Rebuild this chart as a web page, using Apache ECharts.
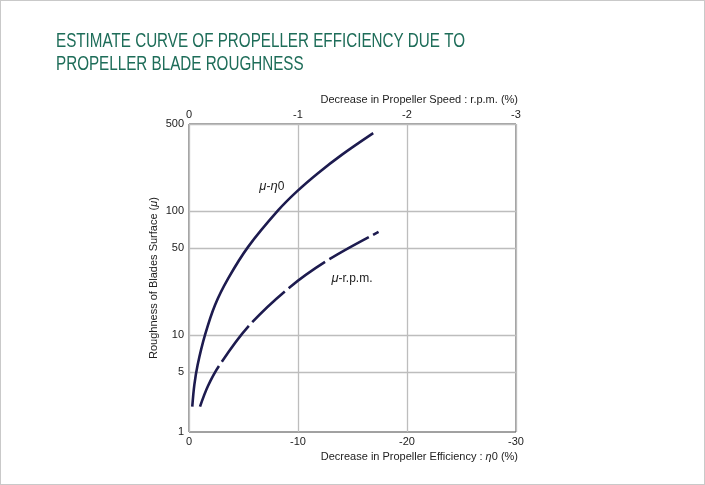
<!DOCTYPE html>
<html><head><meta charset="utf-8">
<script src="https://cdn.jsdelivr.net/npm/echarts@6/dist/echarts.min.js"></script>
<style>
html,body{margin:0;padding:0;background:#fff;}
#wrap{position:relative;width:705px;height:485px;}
#c{width:705px;height:485px;}
#frame{position:absolute;left:0;top:0;width:705px;height:485px;box-sizing:border-box;border:1px solid #c9c9c9;pointer-events:none;}
</style></head>
<body><div id="wrap"><div id="c"></div><div id="frame"></div></div>
<script>
// ---- data ----
const etaX = [-0.30, -0.49, -0.79, -1.47, -2.39, -3.61, -5.44, -8.19, -9.88, -11.86, -14.01, -16.9];
const etaY = [2.64, 3.95, 5.72, 9.98, 17.4, 28.6, 51.4, 101, 142.6, 201.6, 282, 422];
const rpmX = [-1.01, -1.74, -2.75, -5.41, -9.17, -12.84, -17.39];
const rpmY = [2.64, 3.87, 5.62, 11.6, 23.9, 40.5, 67.5];
const yTicks = [5, 10, 50, 100, 500];
const yBottomLabel = '1';
const xTicksBottom = [0, -10, -20, -30];
const xTicksTop = [0, -1, -2, -3];

const FONT = 'Liberation Sans, Arial, sans-serif';
const LINE = '#1d1b4f';
const chart = echarts.init(document.getElementById('c'), null, {renderer: 'canvas'});
const pair = (xs, ys) => xs.map((x, i) => [x, ys[i]]);
const Y_MIN = 1.65, Y_MAX = 500;

chart.setOption({
  animation: false,
  textStyle: {fontFamily: FONT},
  graphic: [{
    type: 'text', left: 56, top: 30, scaleX: 0.78,
    style: {text: 'ESTIMATE CURVE OF PROPELLER EFFICIENCY DUE TO\nPROPELLER BLADE ROUGHNESS',
      fill: '#1e6d59', font: '19.5px ' + FONT, lineHeight: 23}
  }],
  title: [
    {text: 'Decrease in Propeller Speed : r.p.m. (%)', right: 187, top: 94, padding: 0,
      textStyle: {fontSize: 11, fontWeight: 'normal', color: '#222', fontFamily: FONT}},
    {text: 'Decrease in Propeller Efficiency : {i|η}0 (%)', right: 187, top: 451, padding: 0,
      textStyle: {fontSize: 11, fontWeight: 'normal', color: '#222', fontFamily: FONT,
        rich: {i: {fontStyle: 'italic', fontSize: 11, color: '#222', fontFamily: FONT}}}}
  ],
  grid: {left: 189, top: 124, width: 327, height: 308, show: true, borderColor: '#444', borderWidth: 1, backgroundColor: 'transparent'},
  xAxis: [
    {type: 'value', position: 'bottom', min: -30, max: 0, interval: 10, inverse: true,
      axisLine: {show: false}, axisTick: {show: false},
      axisLabel: {margin: 4, fontSize: 11, color: '#222', fontFamily: FONT,
        formatter: v => xTicksBottom.includes(v) ? String(v) : ''},
      splitLine: {show: true, lineStyle: {color: '#bdbdbd', width: 1.3}}},
    {type: 'value', position: 'top', min: -3, max: 0, interval: 1, inverse: true,
      axisLine: {show: false}, axisTick: {show: false},
      axisLabel: {margin: 4, fontSize: 11, color: '#222', fontFamily: FONT,
        formatter: v => xTicksTop.includes(v) ? String(v) : ''},
      splitLine: {show: false}}
  ],
  yAxis: {type: 'log', logBase: 10, min: Y_MIN, max: Y_MAX,
    name: 'Roughness of Blades Surface ({i|μ})', nameLocation: 'middle', nameGap: 30,
    nameTextStyle: {fontSize: 11, color: '#222', fontFamily: FONT,
      rich: {i: {fontStyle: 'italic', fontSize: 11, color: '#222', fontFamily: FONT}}},
    axisLine: {show: false},
    axisTick: {show: false, customValues: yTicks},
    axisLabel: {margin: 5, fontSize: 11, color: '#222', fontFamily: FONT,
      customValues: [Y_MIN].concat(yTicks),
      formatter: v => v < 2 ? yBottomLabel : String(Math.round(v))},
    splitLine: {show: true, lineStyle: {color: '#bdbdbd', width: 1.3}}
  },
  series: [
    {type: 'line', name: 'μ-η0', data: pair(etaX, etaY), smooth: 0.35, symbol: 'none',
      lineStyle: {color: LINE, width: 2.6},
      markPoint: {symbol: 'circle', symbolSize: 0, silent: true,
        label: {show: true, formatter: '{i|μ}-{i|η}0', color: '#222', fontSize: 12, fontFamily: FONT,
          rich: {i: {fontStyle: 'italic', fontSize: 13, color: '#222', fontFamily: FONT}}},
        data: [{coord: [-7.6, 156]}]}},
    {type: 'line', name: 'μ-r.p.m.', data: pair(rpmX, rpmY), smooth: 0.35, symbol: 'none',
      lineStyle: {color: LINE, width: 2.6, type: [45, 5]},
      markPoint: {symbol: 'circle', symbolSize: 0, silent: true,
        label: {show: true, formatter: '{i|μ}-r.p.m.', color: '#222', fontSize: 12, fontFamily: FONT,
          rich: {i: {fontStyle: 'italic', fontSize: 13, color: '#222', fontFamily: FONT}}},
        data: [{coord: [-14.95, 28.4]}]}}
  ]
});
</script></body></html>
